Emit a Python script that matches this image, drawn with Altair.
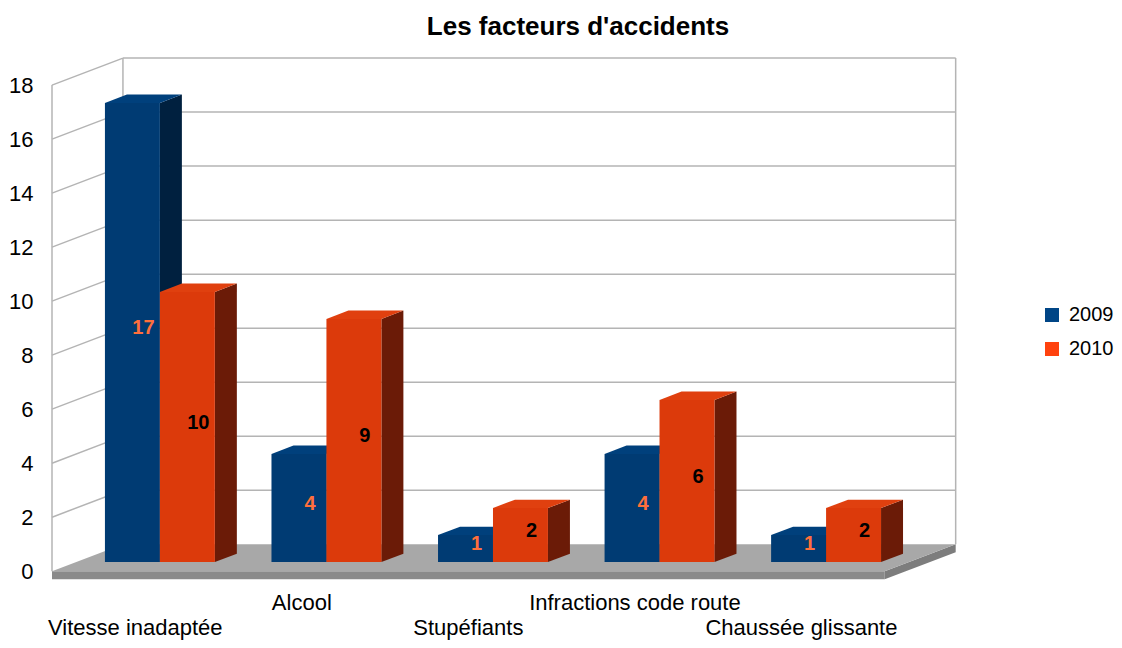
import altair as alt
import pandas as pd

# ---- data ----
categories = ["Vitesse inadaptée", "Alcool", "Stupéfiants",
              "Infractions code route", "Chaussée glissante"]
years = ["2009", "2010"]
values_2009 = [17, 4, 1, 4, 1]
values_2010 = [10, 9, 2, 6, 2]
y_ticks = [0, 2, 4, 6, 8, 10, 12, 14, 16, 18]
title_text = "Les facteurs d'accidents"

# ---- style / geometry constants (oblique 3D projection) ----
FONT = "Liberation Sans"
N = len(categories)
DX = 0.426      # x shift of the full depth (category-slot units)
DY = 1.0        # y shift of the full depth (value units)
MARGIN = 0.173  # gap before first bar inside a slot
BW = 0.33       # bar width (slot units)
Z0 = 0.34       # depth of bar front face
ZD = 0.31       # bar depth
FLOOR_T = 0.3   # floor thickness (value units)

front_cols = ["#003b73", "#dc3a0b"]
top_cols = ["#00407c", "#e0400f"]
side_cols = ["#00203f", "#6b1b07"]
legend_cols = ["#004586", "#ff420e"]
label_cols = ["#ff6f3c", "#000000"]
GRID = "#b4b4b4"

xscale = alt.Scale(domain=[0, 5.5], nice=False, zero=False)
yscale = alt.Scale(domain=[-0.4, 19.3], nice=False, zero=False)
yaxis = alt.Axis(values=y_ticks, title=None, domain=False, ticks=False, grid=False,
                 labelPadding=19, labelFontSize=22, labelFont=FONT, labelColor="black")


def X(f):
    return alt.X(f"{f}:Q", scale=xscale, axis=None)


def Y(f):
    return alt.Y(f"{f}:Q", scale=yscale, axis=yaxis)


def col(rng, legend=None):
    return alt.Color("year:N", scale=alt.Scale(domain=years, range=rng), legend=legend)


# ---- build geometry tables from the arrays ----
fronts, sides, tops, labels = [], [], [], []
series = {"2009": values_2009, "2010": values_2010}
for i, cat in enumerate(categories):
    for j, yr in enumerate(years):
        v = series[yr][i]
        bid = f"{i}-{yr}"
        xl = i + MARGIN + j * BW + Z0 * DX
        xr = xl + BW
        yb = Z0 * DY
        yt = yb + v
        fronts.append(dict(bar=bid, year=yr, xl=xl, xr=xr, yb=yb, yt=yt))
        sides.append(dict(bar=bid, year=yr, x=xr, lo=yb, hi=yt))
        sides.append(dict(bar=bid, year=yr, x=xr + ZD * DX, lo=yb + ZD * DY, hi=yt + ZD * DY))
        tops.append(dict(bar=bid, year=yr, y=yt, xa=xl, xb=xr))
        tops.append(dict(bar=bid, year=yr, y=yt + ZD * DY, xa=xl + ZD * DX, xb=xr + ZD * DX))
        labels.append(dict(year=yr, x=(xl + xr) / 2 + ZD * DX / 2,
                           y=yb + v / 2 + ZD * DY / 2, text=str(v)))

fronts = pd.DataFrame(fronts)
sides = pd.DataFrame(sides)
tops = pd.DataFrame(tops)
labels = pd.DataFrame(labels)

cat_df = pd.DataFrame(dict(
    name=categories,
    x=[i + 0.5 for i in range(N)],
    y=[-2.10 if i % 2 == 0 else -1.19 for i in range(N)],
))

# walls / grid lines
grid_rows = []
for t in y_ticks[1:]:
    grid_rows.append(dict(x=DX, x2=N + DX, y=t + DY, y2=t + DY))   # back wall
    grid_rows.append(dict(x=0, x2=DX, y=t, y2=t + DY))             # left wall
grid_rows.append(dict(x=0, x2=0, y=0, y2=y_ticks[-1]))
grid_rows.append(dict(x=DX, x2=DX, y=DY, y2=y_ticks[-1] + DY))
grid_rows.append(dict(x=N + DX, x2=N + DX, y=DY, y2=y_ticks[-1] + DY))
grid_df = pd.DataFrame(grid_rows)

floor_top = pd.DataFrame(dict(y=[0, DY], xa=[0, DX], xb=[N, N + DX]))
floor_front = pd.DataFrame(dict(xa=[0], xb=[N], lo=[-FLOOR_T], hi=[0]))
floor_side = pd.DataFrame(dict(x=[N, N + DX], lo=[-FLOOR_T, -FLOOR_T + DY], hi=[0, DY]))

# ---- layers ----
grid = alt.Chart(grid_df).mark_rule(color=GRID, strokeWidth=1.5).encode(
    x=X("x"), x2="x2", y=Y("y"), y2="y2")

floor_t = alt.Chart(floor_top).mark_area(orient="horizontal", color="#a8a8a8", opacity=1).encode(
    y=Y("y"), x=X("xa"), x2="xb")
floor_f = alt.Chart(floor_front).mark_rect(color="#8a8a8a").encode(
    x=X("xa"), x2="xb", y=Y("lo"), y2="hi")
floor_s = alt.Chart(floor_side).mark_area(color="#7d7d7d", opacity=1).encode(
    x=X("x"), y=Y("lo"), y2="hi")

side_l = alt.Chart(sides).mark_area(opacity=1).encode(
    x=X("x"), y=Y("lo"), y2="hi", detail="bar:N", color=col(side_cols))
top_l = alt.Chart(tops).mark_area(orient="horizontal", opacity=1).encode(
    y=Y("y"), x=X("xa"), x2="xb", detail="bar:N", color=col(top_cols))
front_l = alt.Chart(fronts).mark_rect(opacity=1).encode(
    x=X("xl"), x2="xr", y=Y("yb"), y2="yt", color=col(front_cols))

val_l = alt.Chart(labels).mark_text(font=FONT, fontSize=20, fontWeight="bold",
                                    align="center", baseline="middle").encode(
    x=X("x"), y=Y("y"), text="text:N", color=col(label_cols))

cat_l = alt.Chart(cat_df).mark_text(font=FONT, fontSize=22, color="black",
                                    align="center", baseline="middle").encode(
    x=X("x"), y=Y("y"), text="name:N")

# legend carrier: small squares hidden under the floor (drawn first)
legend_df = pd.DataFrame(dict(year=years, x=[2.4, 2.6], y=[0.5, 0.5]))
legend_l = alt.Chart(legend_df).mark_square(opacity=1, filled=True, size=100).encode(
    x=X("x"), y=Y("y"),
    color=col(legend_cols, alt.Legend(
        title=None, orient="none", legendX=990, legendY=255, padding=0,
        symbolType="square", symbolSize=196, symbolStrokeWidth=0,
        labelFont=FONT, labelFontSize=20, labelColor="black",
        labelOffset=7, rowPadding=14, symbolOpacity=1)))

chart = alt.layer(
    legend_l, grid, floor_f, floor_s, floor_t, side_l, top_l, front_l, val_l, cat_l
).resolve_scale(color="independent").properties(
    width=916, height=532,
    autosize=alt.AutoSizeParams(type="none"),
    padding={"left": 44, "top": 42, "right": 146, "bottom": 58},
    title=alt.Title(title_text, font=FONT, fontSize=26, fontWeight="bold",
                    anchor="middle", frame="group", dx=68, dy=26, offset=15,
                    baseline="alphabetic", color="black"),
).configure_view(stroke=None)

chart.save("out.html", embed_options={"renderer": "svg", "actions": False})
